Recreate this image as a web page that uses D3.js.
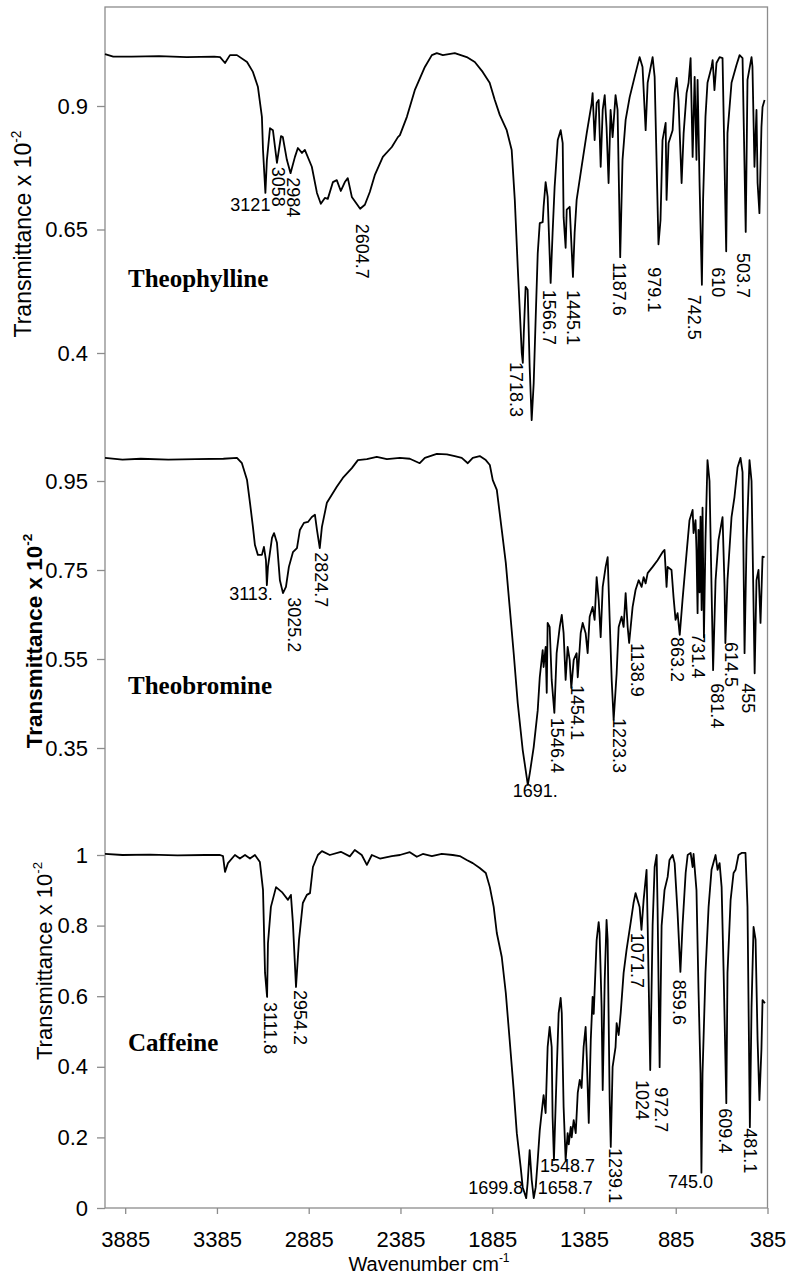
<!DOCTYPE html>
<html>
<head>
<meta charset="utf-8">
<script src="https://cdn.jsdelivr.net/npm/d3@7"></script>
<style>
body { margin: 0; background: #fff; }
</style>
</head>
<body>
<svg id="chart" width="793" height="1279"></svg>
<script>
// x axis ticks (wavenumber, cm-1)
var xTicks = [3885, 3385, 2885, 2385, 1885, 1385, 885, 385];

// y ticks per panel
var theophyllineTicks = [0.4, 0.65, 0.9];
var theobromineTicks  = [0.35, 0.55, 0.75, 0.95];
var caffeineTicks     = [0, 0.2, 0.4, 0.6, 0.8, 1];

// spectra, [wavenumber, transmittance]
var theophylline = [
  [3995,1.005],[3950,1.0],[3850,1.0],[3700,1.001],[3550,0.999],[3400,1.0],[3368,0.999],[3341,0.987],
  [3314,1.003],[3276,1.003],[3221,0.989],[3189,0.969],[3162,0.939],[3140,0.878],[3134,0.811],[3121,0.724],
  [3113,0.79],[3096,0.855],[3080,0.851],[3058,0.785],[3036,0.839],[3026,0.837],[3004,0.791],[2984,0.764],
  [2960,0.797],[2944,0.815],[2922,0.805],[2906,0.811],[2868,0.777],[2840,0.724],[2819,0.702],[2797,0.714],
  [2781,0.712],[2753,0.746],[2732,0.75],[2710,0.728],[2688,0.746],[2672,0.754],[2650,0.716],[2604.7,0.692],
  [2579,0.7],[2552,0.726],[2525,0.76],[2481,0.797],[2432,0.817],[2399,0.837],[2388,0.841],[2350,0.878],
  [2307,0.932],[2252,0.979],[2214,1.003],[2187,1.007],[2154,1.003],[2089,1.007],[2024,0.999],[1980,0.989],
  [1937,0.969],[1899,0.947],[1871,0.912],[1844,0.882],[1806,0.851],[1779,0.811],[1762,0.71],[1746,0.574],
  [1724,0.4],[1718.3,0.38],[1713,0.44],[1703,0.534],[1692,0.528],[1681,0.372],[1670,0.264],[1659,0.339],
  [1648,0.473],[1637,0.602],[1626,0.663],[1610,0.665],[1605,0.696],[1594,0.746],[1583,0.716],[1566.7,0.542],
  [1556,0.643],[1545,0.736],[1528,0.831],[1512,0.851],[1501,0.825],[1496,0.675],[1485,0.613],[1479,0.69],
  [1463,0.696],[1445.1,0.554],[1436,0.643],[1425,0.71],[1398,0.777],[1370,0.845],[1343,0.906],[1338,0.926],
  [1327,0.831],[1316,0.906],[1305,0.912],[1294,0.777],[1283,0.892],[1272,0.922],[1262,0.857],[1251,0.744],
  [1240,0.892],[1229,0.837],[1213,0.922],[1202,0.892],[1187.6,0.594],[1175,0.791],[1158,0.872],[1136,0.918],
  [1109,0.959],[1082,0.999],[1066,0.979],[1049,0.851],[1038,0.947],[1011,0.999],[1000,0.959],[979.1,0.62],
  [968,0.669],[957,0.831],[940,0.866],[935,0.71],[924,0.825],[902,0.851],[891,0.926],[880,0.957],
  [870,0.912],[853,0.744],[842,0.845],[826,0.926],[815,0.947],[804,0.997],[793,0.797],[782,0.959],
  [772,0.791],[766,0.953],[755,0.74],[742.5,0.538],[736,0.71],[723,0.878],[712,0.947],[690,0.979],
  [684,0.993],[674,0.932],[663,0.987],[646,0.999],[630,0.997],[610,0.606],[603,0.845],[581,0.947],
  [554,0.983],[537,1.003],[521,0.997],[503.7,0.645],[494,0.953],[472,0.999],[467,0.98],[456,0.777],
  [445,0.892],[439,0.744],[429,0.683],[418,0.857],[412,0.898],[401,0.912]
];

var theobromine = [
  [3995,1.002],[3900,0.998],[3800,1.0],[3650,0.998],[3500,0.999],[3350,1.0],[3276,1.002],[3249,0.99],
  [3221,0.952],[3205,0.901],[3189,0.847],[3178,0.806],[3162,0.784],[3140,0.784],[3129,0.802],[3118,0.772],
  [3113,0.716],[3107,0.757],[3085,0.822],[3074,0.833],[3058,0.811],[3042,0.727],[3025.2,0.698],[3009,0.712],
  [2993,0.757],[2971,0.79],[2949,0.799],[2933,0.84],[2911,0.856],[2889,0.858],[2868,0.869],[2851,0.874],
  [2840,0.84],[2824.7,0.799],[2813,0.847],[2786,0.901],[2759,0.919],[2732,0.937],[2699,0.957],[2650,0.979],
  [2617,0.997],[2568,0.999],[2514,1.004],[2459,0.999],[2388,1.002],[2334,1.0],[2280,0.99],[2252,1.002],
  [2187,1.011],[2132,1.01],[2089,1.006],[2051,1.002],[2018,0.99],[1991,1.002],[1953,1.006],[1920,0.997],
  [1898,0.986],[1882,0.952],[1860,0.93],[1833,0.84],[1811,0.766],[1790,0.667],[1768,0.563],[1746,0.451],
  [1719,0.346],[1691,0.267],[1680,0.294],[1659,0.352],[1637,0.435],[1626,0.509],[1610,0.57],[1605,0.532],
  [1594,0.577],[1588,0.474],[1583,0.631],[1572,0.622],[1561,0.503],[1546.4,0.429],[1534,0.563],[1517,0.622],
  [1506,0.649],[1496,0.608],[1485,0.503],[1474,0.577],[1463,0.548],[1454.1,0.485],[1441,0.548],[1425,0.563],
  [1419,0.509],[1403,0.608],[1392,0.631],[1376,0.608],[1365,0.563],[1354,0.645],[1338,0.667],[1327,0.638],
  [1316,0.734],[1305,0.683],[1294,0.599],[1283,0.712],[1267,0.757],[1256,0.779],[1245,0.638],[1234,0.503],
  [1223.3,0.413],[1207,0.518],[1196,0.622],[1180,0.645],[1169,0.622],[1158,0.698],[1147,0.622],[1138.9,0.586],
  [1120,0.667],[1104,0.705],[1087,0.727],[1071,0.712],[1060,0.734],[1049,0.72],[1038,0.743],[1011,0.757],
  [984,0.772],[957,0.79],[946,0.795],[935,0.712],[929,0.757],[908,0.75],[897,0.689],[886,0.638],
  [875,0.653],[863.2,0.604],[848,0.683],[826,0.788],[810,0.862],[793,0.885],[788,0.833],[777,0.862],
  [772,0.795],[766,0.653],[761,0.84],[755,0.7],[750,0.87],[744,0.66],[739,0.89],[731.4,0.599],
  [723,0.817],[712,0.997],[701,0.95],[681.4,0.525],[668,0.727],[652,0.817],[630,0.869],[619,0.712],
  [614.5,0.586],[603,0.727],[581,0.869],[565,0.914],[548,0.981],[532,1.002],[521,0.97],[510,0.563],
  [499,0.817],[483,0.997],[472,0.95],[455,0.518],[445,0.727],[434,0.75],[423,0.631],[412,0.78],[401,0.779]
];

var caffeine = [
  [3995,1.003],[3900,1.0],[3750,1.001],[3600,0.999],[3450,1.0],[3368,1.0],[3352,0.997],[3341,0.952],
  [3325,0.977],[3287,1.0],[3260,0.99],[3232,1.0],[3205,0.99],[3178,1.0],[3151,0.98],[3134,0.901],
  [3123,0.666],[3111.8,0.598],[3107,0.75],[3091,0.853],[3063,0.909],[3031,0.895],[2998,0.873],[2982,0.887],
  [2971,0.807],[2954.2,0.626],[2938,0.759],[2917,0.864],[2895,0.887],[2878,0.892],[2862,0.966],[2835,1.0],
  [2813,1.011],[2770,1.0],[2710,1.009],[2661,0.996],[2634,1.014],[2596,1.0],[2568,0.972],[2541,1.0],
  [2497,0.99],[2432,0.997],[2388,1.0],[2334,1.008],[2296,0.995],[2263,1.003],[2214,0.997],[2160,1.003],
  [2100,1.0],[2062,0.997],[2024,0.986],[1991,0.977],[1953,0.963],[1920,0.949],[1898,0.909],[1877,0.853],
  [1860,0.779],[1833,0.711],[1811,0.609],[1790,0.476],[1768,0.334],[1751,0.212],[1730,0.116],[1719,0.059],
  [1699.8,0.028],[1692,0.071],[1681,0.164],[1670,0.08],[1658.7,0.028],[1648,0.059],[1637,0.136],[1626,0.22],
  [1610,0.297],[1605,0.32],[1594,0.269],[1583,0.456],[1572,0.513],[1561,0.456],[1556,0.258],[1548.7,0.136],
  [1534,0.382],[1523,0.552],[1512,0.595],[1506,0.552],[1496,0.286],[1485,0.136],[1474,0.212],[1468,0.18],
  [1457,0.23],[1452,0.2],[1441,0.249],[1430,0.212],[1419,0.326],[1408,0.363],[1398,0.34],[1387,0.456],
  [1376,0.513],[1370,0.43],[1359,0.241],[1348,0.476],[1338,0.598],[1332,0.55],[1316,0.759],[1305,0.81],
  [1300,0.78],[1289,0.569],[1283,0.334],[1272,0.646],[1262,0.816],[1256,0.76],[1245,0.306],[1239.1,0.173],
  [1229,0.4],[1213,0.456],[1207,0.524],[1196,0.49],[1185,0.552],[1169,0.666],[1153,0.731],[1131,0.807],
  [1115,0.864],[1104,0.892],[1082,0.853],[1071.7,0.788],[1060,0.873],[1044,0.958],[1038,0.8],[1024,0.391],
  [1011,0.8],[1000,0.966],[989,1.0],[984,0.85],[972.7,0.399],[962,0.8],[946,0.901],[929,0.938],
  [919,0.986],[902,1.0],[891,0.977],[875,0.836],[859.6,0.669],[848,0.8],[831,0.949],[820,1.0],
  [804,1.006],[793,0.966],[788,1.003],[772,0.9],[761,0.618],[750,0.382],[745,0.1],[739,0.382],
  [723,0.666],[706,0.853],[690,0.958],[668,1.0],[657,0.958],[646,0.977],[635,0.909],[624,0.666],
  [609.4,0.297],[603,0.666],[586,0.873],[570,0.949],[559,0.958],[543,1.0],[526,1.006],[505,1.006],
  [494,0.853],[481.1,0.229],[472,0.569],[461,0.796],[450,0.76],[439,0.476],[429,0.306],[418,0.45],
  [412,0.589],[399,0.58]
];

// peak labels as printed
var theophyllinePeaks = ["3121","3058","2984","2604.7","1718.3","1566.7","1445.1","1187.6","979.1","742.5","610","503.7"];
var theobrominePeaks  = ["3113.","3025.2","2824.7","1691.","1546.4","1454.1","1223.3","1138.9","863.2","731.4","681.4","614.5","455"];
var caffeinePeaks     = ["3111.8","2954.2","1699.8","1658.7","1548.7","1239.1","1071.7","1024","972.7","859.6","745.0","609.4","481.1"];

// label placement: [mode, dx, dy] relative to the peak tip; default is rotated text below the tip
var theophyllineLayout = {
  "3121": ["end", 5, 18], "3058": ["down", 1, 4], "2984": ["down", 3, 4], "2604.7": ["down", 2, 15],
  "1718.3": ["down", -7, -1], "1566.7": ["down", -1, 7], "1445.1": ["down", 0, 13], "1187.6": ["down", -1, 5],
  "979.1": ["down", -4, 23], "742.5": ["down", -8, 10], "610": ["down", -8, 16], "503.7": ["down", -2, 21]
};
var theobromineLayout = {
  "3113.": ["end", 6, 15], "3025.2": ["down", 11, 4], "2824.7": ["down", 2, 4], "1691.": ["start", -15, 12],
  "1546.4": ["down", 3, 5], "1454.1": ["down", 6, -3], "1223.3": ["down", 6, -2], "1138.9": ["down", 8, 0],
  "863.2": ["down", -2, 2], "731.4": ["down", -6, -4], "681.4": ["down", 4, 13], "614.5": ["down", 6, -1],
  "455": ["down", -6, 10]
};
var caffeineLayout = {
  "3111.8": ["down", 3, 5], "2954.2": ["down", 4, 3], "1699.8": ["end", -3, -4], "1658.7": ["start", 4, -4],
  "1548.7": ["start", -14, 12], "1239.1": ["down", 5, 1], "1071.7": ["down", -4, 3], "1024": ["down", -8, 10],
  "972.7": ["down", 2, 20], "859.6": ["down", -1, 8], "745.0": ["middle", -11, 15], "609.4": ["down", -1, 5],
  "481.1": ["down", 0, 1]
};

var sans = "'Liberation Sans', Arial, Helvetica, sans-serif";
var serif = "'Liberation Serif', 'Times New Roman', serif";
var axisColor = "#8c8c8c";

var svg = d3.select("#chart");
var plotLeft = 105, plotRight = 767.5, plotTop = 7, plotBottom = 1208;

svg.append("rect").attr("width", 793).attr("height", 1279).attr("fill", "#fff");

var x = d3.scaleLinear().domain([3995, 385]).range([plotLeft, plotRight]);

var panels = [
  { name: "Theophylline", data: theophylline, peaks: theophyllinePeaks, ticks: theophyllineTicks,
    layout: theophyllineLayout, y: d3.scaleLinear().domain([0.4, 0.9]).range([353, 106]),
    nameY: 287, titleX: 31, titleY: 234, titleSize: 23, titleWeight: "normal" },
  { name: "Theobromine", data: theobromine, peaks: theobrominePeaks, ticks: theobromineTicks,
    layout: theobromineLayout, y: d3.scaleLinear().domain([0.35, 0.95]).range([748, 481]),
    nameY: 694, titleX: 42, titleY: 641, titleSize: 22.5, titleWeight: "bold" },
  { name: "Caffeine", data: caffeine, peaks: caffeinePeaks, ticks: caffeineTicks,
    layout: caffeineLayout, y: d3.scaleLinear().domain([0, 1]).range([plotBottom, 855]),
    nameY: 1051, titleX: 52, titleY: 961, titleSize: 22, titleWeight: "normal" }
];

// frame round the whole plot area
svg.append("rect")
  .attr("x", plotLeft).attr("y", plotTop)
  .attr("width", plotRight - plotLeft).attr("height", plotBottom - plotTop)
  .attr("fill", "none").attr("stroke", axisColor).attr("stroke-width", 1.3);

panels.forEach(function(p) {
  var g = svg.append("g");

  var ya = g.append("g")
    .attr("transform", "translate(" + plotLeft + ",0)")
    .call(d3.axisLeft(p.y).tickValues(p.ticks).tickSize(8).tickPadding(9).tickFormat(d3.format("~g")));
  ya.select(".domain").remove();
  ya.selectAll("line").attr("stroke", axisColor).attr("stroke-width", 1.3);
  ya.attr("font-size", 22).attr("font-family", sans);
  ya.selectAll("text").attr("fill", "#000");

  var line = d3.line()
    .x(function(d) { return x(d[0]); })
    .y(function(d) { return p.y(d[1]); });

  g.append("path")
    .datum(p.data)
    .attr("d", line)
    .attr("fill", "none")
    .attr("stroke", "#000")
    .attr("stroke-width", 1.8)
    .attr("stroke-linejoin", "round");

  // peak labels, anchored at the nearest data point
  p.peaks.forEach(function(label) {
    var v = parseFloat(label);
    var tip = p.data.reduce(function(a, b) {
      return Math.abs(b[0] - v) < Math.abs(a[0] - v) ? b : a;
    });
    var lay = p.layout[label] || ["down", 0, 4];
    var px = x(tip[0]) + lay[1], py = p.y(tip[1]) + lay[2];
    var t = g.append("text")
      .text(label)
      .attr("font-family", sans)
      .attr("font-size", 18)
      .attr("fill", "#000");
    if (lay[0] == "down") {
      t.attr("transform", "translate(" + px + "," + py + ") rotate(90)")
        .attr("dy", "0.35em");
    } else {
      t.attr("x", px).attr("y", py).attr("text-anchor", lay[0]);
    }
  });

  g.append("text")
    .text(p.name)
    .attr("x", 128).attr("y", p.nameY)
    .attr("font-family", serif).attr("font-weight", "bold").attr("font-size", 25);

  var title = g.append("text")
    .attr("transform", "translate(" + p.titleX + "," + p.titleY + ") rotate(-90)")
    .attr("text-anchor", "middle")
    .attr("font-family", sans).attr("font-size", p.titleSize).attr("font-weight", p.titleWeight);
  title.append("tspan").text("Transmittance x 10");
  title.append("tspan").text("-2").attr("font-size", "0.6em").attr("dy", "-0.75em");
});

// x axis
var xa = svg.append("g")
  .attr("transform", "translate(0," + plotBottom + ")")
  .call(d3.axisBottom(x).tickValues(xTicks).tickSize(6).tickSizeOuter(0).tickPadding(17).tickFormat(d3.format("d")));
xa.select(".domain").remove();
xa.selectAll("line").attr("stroke", axisColor).attr("stroke-width", 1.3);
xa.attr("font-size", 22).attr("font-family", sans);
xa.selectAll("text").attr("fill", "#000");

var xt = svg.append("text")
  .attr("x", 429).attr("y", 1271)
  .attr("text-anchor", "middle")
  .attr("font-family", sans).attr("font-size", 20);
xt.append("tspan").text("Wavenumber cm");
xt.append("tspan").text("-1").attr("font-size", "0.6em").attr("dy", "-0.75em");
</script>
</body>
</html>
